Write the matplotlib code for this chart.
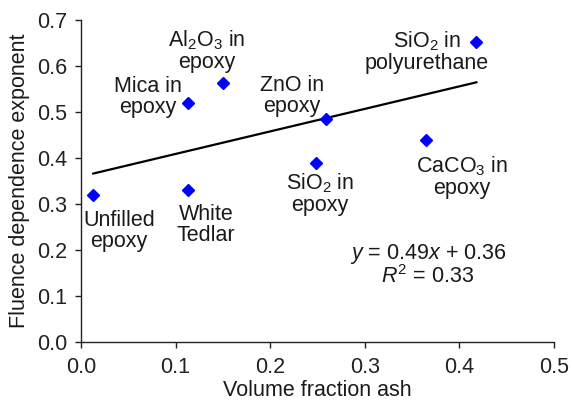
import numpy as np
import matplotlib
matplotlib.use("Agg")
import matplotlib.pyplot as plt

plt.rcParams['font.family'] = ['Liberation Sans', 'DejaVu Sans']
plt.rcParams['mathtext.fontset'] = 'custom'
plt.rcParams['mathtext.rm'] = 'Liberation Sans'
plt.rcParams['mathtext.it'] = 'Liberation Sans:italic'

labels = ["Unfilled\nepoxy", "White\nTedlar", "Mica in\nepoxy", "Al$_2$O$_3$ in\nepoxy",
          "ZnO in\nepoxy", "SiO$_2$ in\nepoxy", "CaCO$_3$ in\nepoxy", "SiO$_2$ in\npolyurethane"]
x_vals = [0.013, 0.113, 0.113, 0.150, 0.259, 0.248, 0.365, 0.418]
y_vals = [0.320, 0.330, 0.520, 0.563, 0.485, 0.390, 0.440, 0.652]
slope = 0.49
intercept = 0.36

FS = 15.5
TXT = '#1a1a1a'
fig = plt.figure(figsize=(5.72, 4.03), dpi=100)
ax = fig.add_axes([0.1416, 0.1514, 0.8269, 0.7986])

xs = np.array([min(x_vals), max(x_vals)])
ax.plot(xs, slope * xs + intercept, color='black', lw=1.6, zorder=2)
ax.plot(x_vals, y_vals, linestyle='none', marker='D', color='#0000ff', ms=6.5, zorder=3)

# label positions (pixel -> data conversion)
label_px = [(119, 231), (206, 225), (148, 97), (207, 51), (292, 96), (320, 194), (462, 177), (427, 52)]
for lab, (px, py) in zip(labels, label_px):
    ax.text((px - 81) / 946, (342 - py) / 460, lab, ha='center', va='center',
            fontsize=FS, linespacing=1.0, color=TXT)

ax.text((428 - 81) / 946, (342 - 265) / 460,
        "$y$ = %.2f$x$ + %.2f\n$R^2$ = 0.33" % (slope, intercept),
        ha='center', va='center', fontsize=FS, linespacing=1.0, color=TXT)

ax.set_xlim(0, 0.5)
ax.set_ylim(0, 0.7)
ax.set_xticks(np.arange(0, 0.51, 0.1))
ax.set_yticks(np.arange(0, 0.71, 0.1))
ax.set_xticklabels(["0.0", "0.1", "0.2", "0.3", "0.4", "0.5"])
ax.set_yticklabels(["%.1f" % v for v in np.arange(0, 0.71, 0.1)])
ax.tick_params(direction='out', length=4, width=1, labelsize=FS, colors='#222222')
ax.tick_params(axis='x', pad=7)
ax.tick_params(axis='y', pad=6)
for s in ['top', 'right']:
    ax.spines[s].set_visible(False)
for s in ['left', 'bottom']:
    ax.spines[s].set_linewidth(1)
    ax.spines[s].set_color('#222222')

ax.set_xlabel("Volume fraction ash", fontsize=FS, labelpad=1, color=TXT)
ax.set_ylabel("Fluence dependence exponent", fontsize=FS, labelpad=5, color=TXT)

fig.savefig("out.png", dpi=100)
